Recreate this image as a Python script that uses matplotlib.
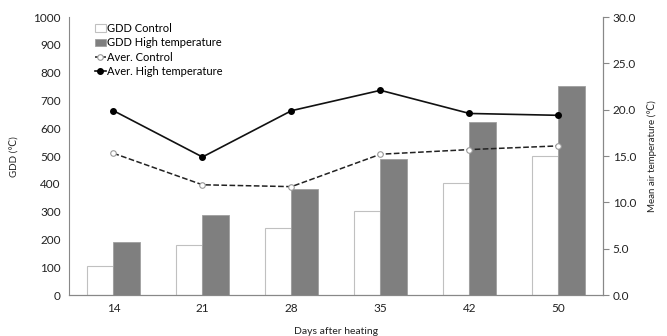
import numpy as np
import matplotlib
matplotlib.use('Agg')
import matplotlib.pyplot as plt

plt.rcParams['font.family'] = ['Lato', 'DejaVu Sans']

days = ['14', '21', '28', '35', '42', '50']
gdd_control = [105, 179, 240, 303, 402, 501]
gdd_high = [190, 289, 382, 490, 623, 753]
temp_control = [15.3, 11.9, 11.7, 15.2, 15.7, 16.1]
temp_high = [19.9, 14.9, 19.9, 22.1, 19.6, 19.4]

x = np.arange(len(days))
w = 0.3

fig = plt.figure(figsize=(6.67, 3.36), dpi=100)
ax = fig.add_axes([0.1034, 0.122, 0.8006, 0.827])
ax2 = ax.twinx()

b1 = ax.bar(x - w / 2, gdd_control, w, color='white', edgecolor='#c0c0c0', linewidth=0.8, label='GDD Control')
b2 = ax.bar(x + w / 2, gdd_high, w, color='#7f7f7f', edgecolor='#a0a0a0', linewidth=0.6, label='GDD High temperature')

l1, = ax2.plot(x, temp_control, color='#222222', linestyle='--', linewidth=1.1, marker='o', markersize=4,
               markerfacecolor='white', markeredgecolor='#999999', markeredgewidth=0.8, label='Aver. Control')
l2, = ax2.plot(x, temp_high, color='#111111', linestyle='-', linewidth=1.2, marker='o', markersize=4,
               markerfacecolor='black', markeredgecolor='black', label='Aver. High temperature')

ax.set_xlim(-0.5, len(days) - 0.5)
ax.set_ylim(0, 1000)
ax.set_yticks(range(0, 1001, 100))
ax2.set_ylim(0, 30)
ax2.set_yticks(np.arange(0, 30.1, 5))
ax2.set_yticklabels(['%.1f' % v for v in np.arange(0, 30.1, 5)])
ax.set_xticks(x)
ax.set_xticklabels(days)

for a in (ax, ax2):
    for s in a.spines.values():
        s.set_color('#888888')
        s.set_linewidth(0.8)
    a.spines['top'].set_visible(False)
ax.tick_params(axis='both', length=0, labelsize=8.5, pad=6, colors='#222222')
ax2.tick_params(axis='y', length=4, color='#888888', labelsize=8.5, pad=3, labelcolor='#222222')
ax2.spines['left'].set_visible(False)

ax.set_ylabel('GDD (℃)', fontsize=7, color='#222222', labelpad=10)
ax2.set_ylabel('Mean air temperature (℃)', fontsize=7, color='#222222', labelpad=8)
ax.set_xlabel('Days after heating', fontsize=7.5, color='#222222', labelpad=9)

ax.legend([b1, b2, l1, l2], ['GDD Control', 'GDD High temperature', 'Aver. Control', 'Aver. High temperature'],
          loc='upper left', bbox_to_anchor=(0.04, 0.995), frameon=False, fontsize=8,
          handlelength=1.0, handletextpad=0.1, labelspacing=0.3, borderaxespad=0)

fig.savefig('out.png', dpi=100)
